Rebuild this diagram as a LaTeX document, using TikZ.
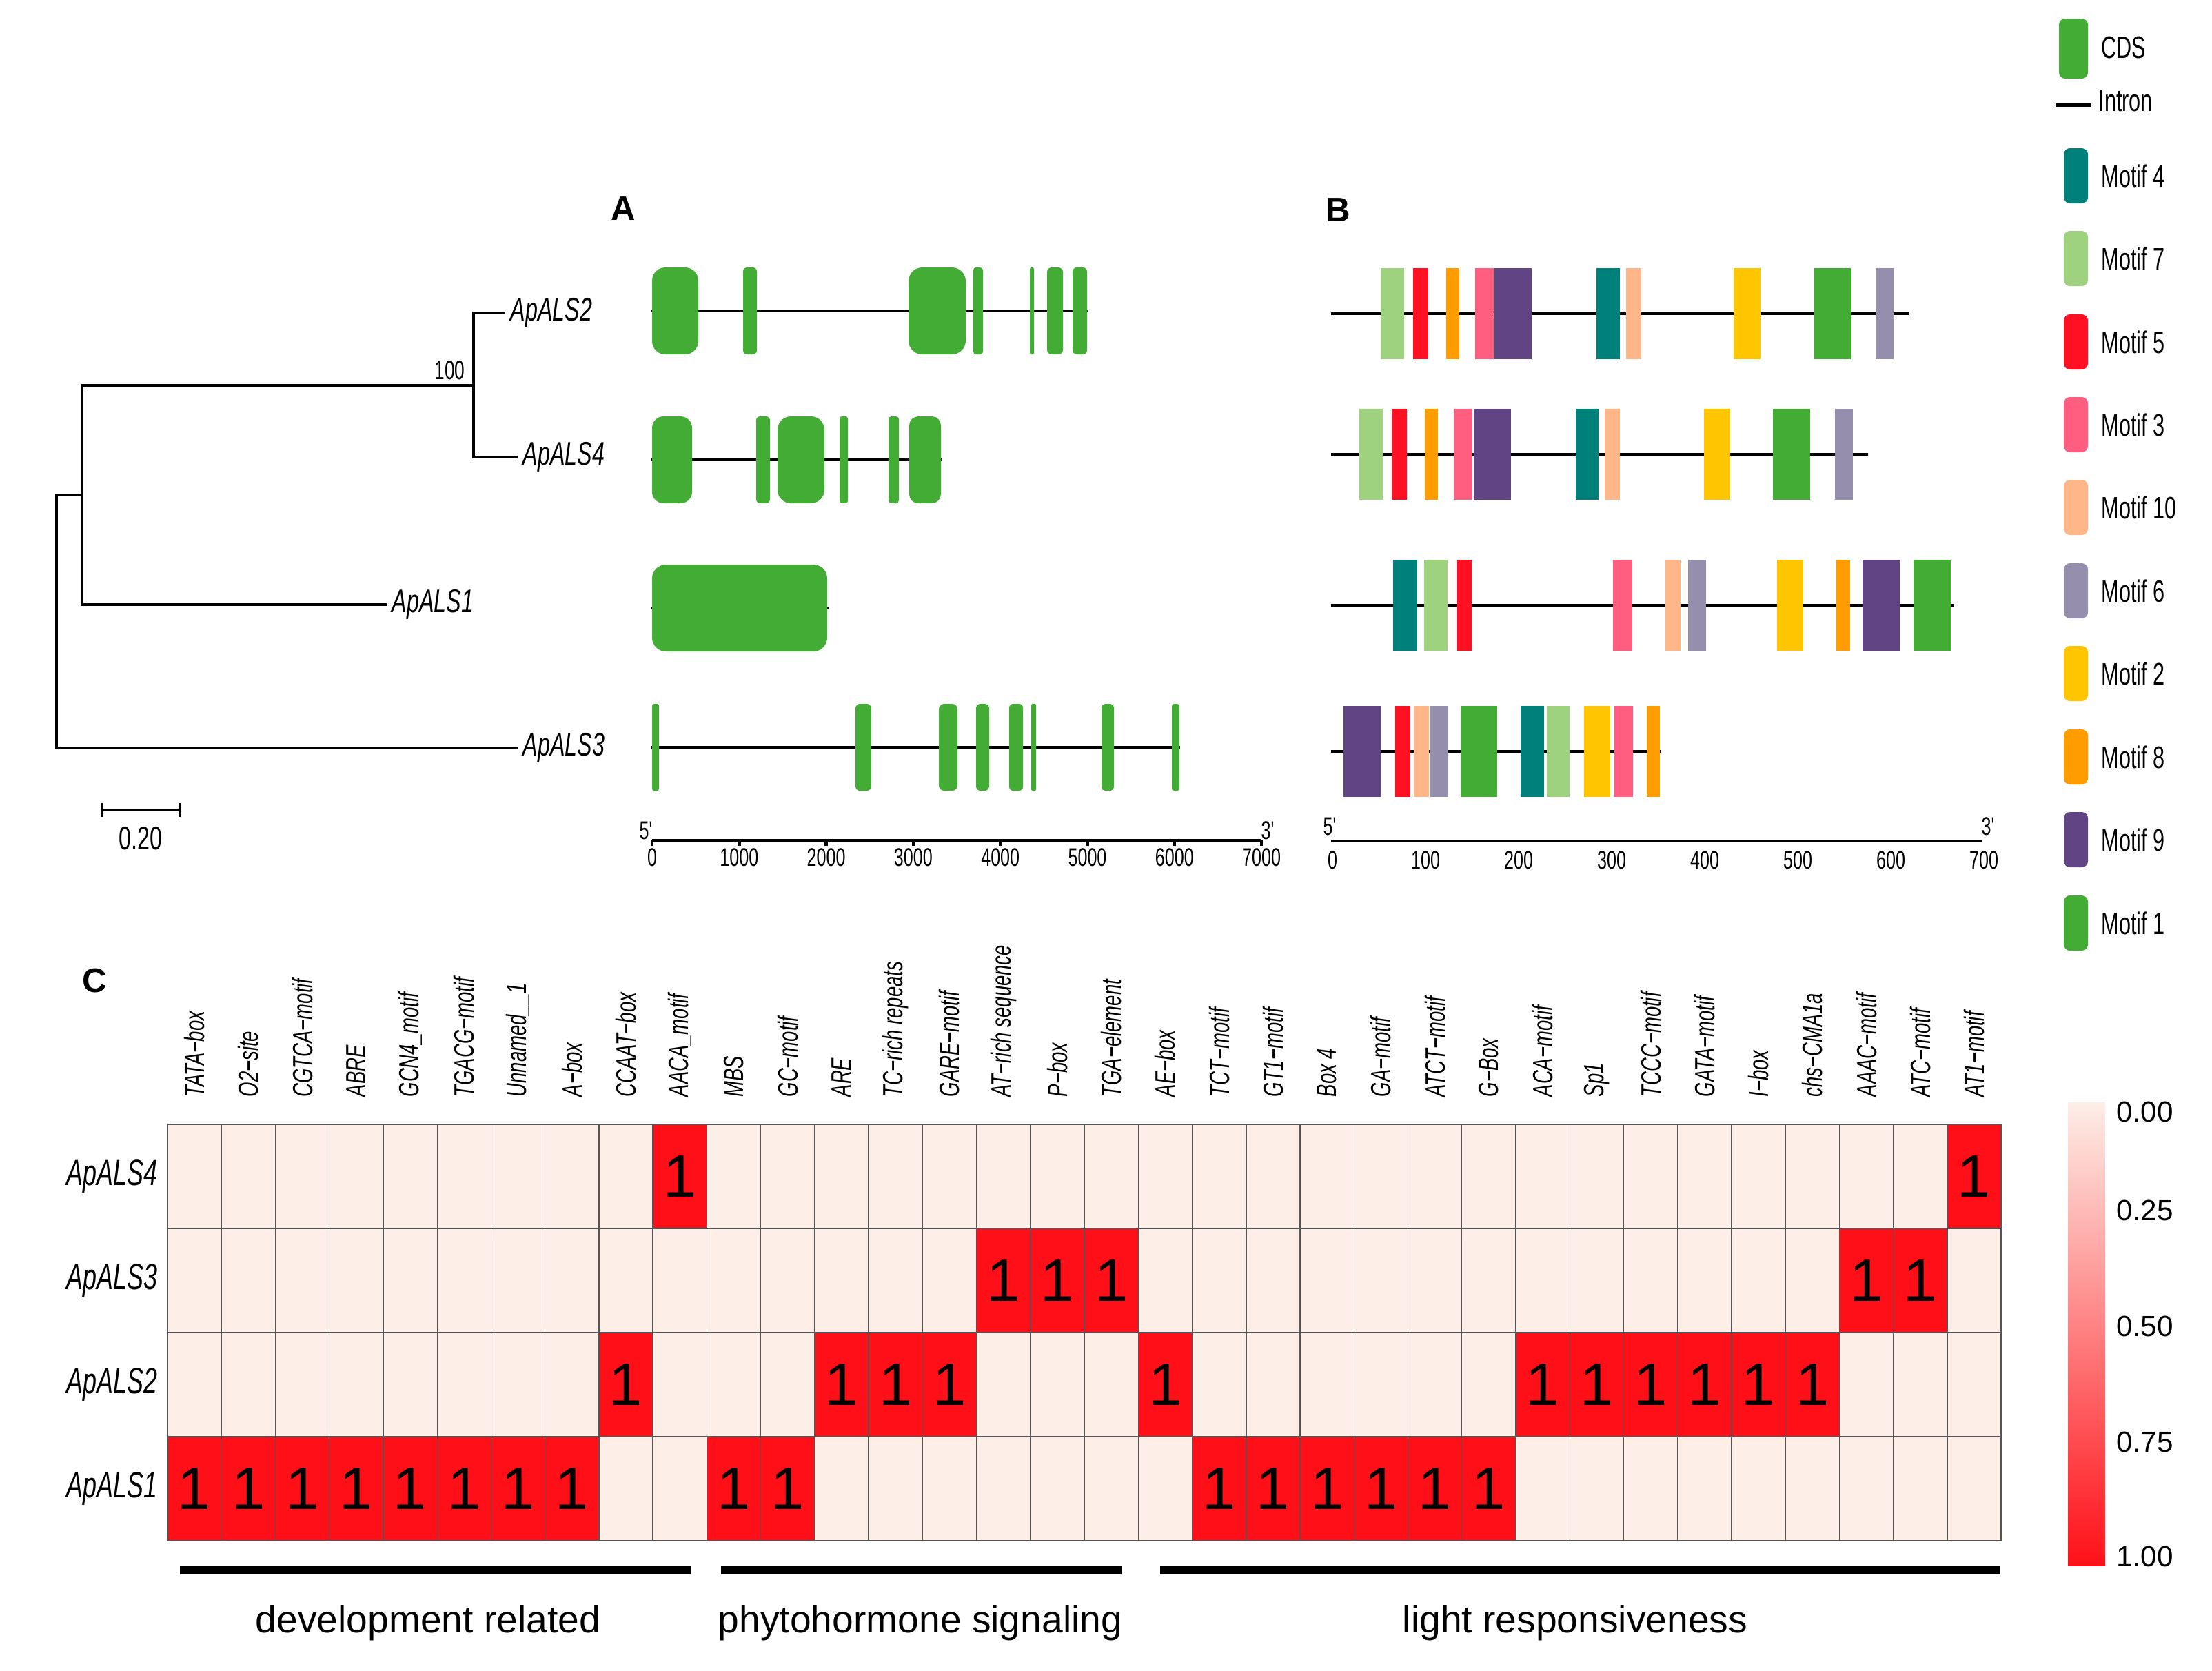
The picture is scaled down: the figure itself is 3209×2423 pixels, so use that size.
\documentclass[tikz,border=0pt]{standalone}
\usepackage{fontspec}
\setmainfont{Liberation Sans}
\newfontfamily\nfont[FakeStretch=0.68]{Liberation Sans}

\definecolor{cdsgreen}{HTML}{43AC34}
\definecolor{motif1}{HTML}{43AC34}
\definecolor{motif2}{HTML}{FFC600}
\definecolor{motif3}{HTML}{FF5E80}
\definecolor{motif4}{HTML}{00807A}
\definecolor{motif5}{HTML}{FF1022}
\definecolor{motif6}{HTML}{958FAD}
\definecolor{motif7}{HTML}{9ED27E}
\definecolor{motif8}{HTML}{FF9D00}
\definecolor{motif9}{HTML}{614484}
\definecolor{motif10}{HTML}{FFB688}
\definecolor{cellbg}{HTML}{FDEEE7}
\definecolor{cellred}{HTML}{FF1018}
\definecolor{gridgrey}{HTML}{555555}
\definecolor{barmid}{HTML}{FD9478}

\tikzset{
  treeline/.style={line width=0.9pt},
  leaf/.style={anchor=west, inner sep=2pt, font=\nfont\itshape\fontsize{13.5}{16}\selectfont},
  exon/.style={fill=cdsgreen},
  intron/.style={line width=1pt},
  axisline/.style={line width=1.3pt},
  ticklabel/.style={inner sep=0pt, font=\nfont\fontsize{10.5}{12}\selectfont},
  panel/.style={font=\bfseries\fontsize{14}{16}\selectfont},
  legendtext/.style={anchor=west, inner sep=0pt, font=\nfont\fontsize{12.8}{15}\selectfont},
  cell/.style={fill=cellbg, draw=gridgrey, line width=0.4pt},
  hit/.style={fill=cellred, draw=gridgrey, line width=0.4pt},
  one/.style={inner sep=0pt, font=\fontsize{24.7}{28}\selectfont},
  collabel/.style={rotate=90, anchor=west, inner sep=0pt, font=\nfont\itshape\fontsize{11.5}{13}\selectfont},
  rowlabel/.style={anchor=east, inner sep=0pt, font=\nfont\itshape\fontsize{15}{17}\selectfont},
  groupbar/.style={line width=3.4pt},
  grouplabel/.style={anchor=base, inner sep=0pt, font=\fontsize{15.7}{19}\selectfont},
  barlabel/.style={anchor=west, inner sep=0pt, font=\fontsize{12}{14}\selectfont}
}

\begin{document}
\begin{tikzpicture}[x=0.01cm, y=-0.01cm]
  \useasboundingbox (0,0) rectangle (3209,2423);
  %
  % tree
  \node[leaf] (lab2) at (733,454) {ApALS2};
  \node[leaf] (lab4) at (751,663) {ApALS4};
  \node[leaf] (lab1) at (561,877) {ApALS1};
  \node[leaf] (lab3) at (751,1085) {ApALS3};
  \coordinate (root) at (82,901);
  \coordinate (n1) at (119,718);
  \coordinate (n2) at (687,559);
  \draw[treeline] (lab2.west) -| (n2) |- (lab4.west);
  \draw[treeline] (n2) -| (n1) |- (lab1.west);
  \draw[treeline] (n1) -| (root) |- (lab3.west);
  \node[anchor=east, inner sep=0pt, font=\nfont\fontsize{11}{13}\selectfont] (boot) at (675,537) {100};
  % scale bar
  \coordinate (sbl) at (148,1175);
  \coordinate (sbr) at (261,1175);
  \draw[treeline] (148,1165) -- (148,1185) (sbl) -- (sbr) (261,1165) -- (261,1185);
  \node[inner sep=0pt, font=\nfont\fontsize{13.5}{16}\selectfont] (sblab) at (204,1216) {0.20};
  %
  % A: gene structure
  \node[panel] (pa) at (904,303) {A};
  \foreach \y/\len/\ex in {451/1578/{946/1013,1078/1098,1318/1401,1412/1426,1494/1500,1519/1542,1556/1577},
                           667/1366/{946/1004,1097/1117,1128/1196,1218/1230,1289/1304,1319/1365},
                           882/1202/{946/1200},
                           1084/1712/{946/956,1241/1264,1362/1389,1416/1435,1464/1484,1496/1503,1598/1616,1700/1711}} {
    \draw[intron] (944,\y) -- (\len,\y);
    \foreach \a/\b in \ex {
      \pgfmathsetmacro\rad{min(20,(\b-\a)/3.5)*0.2845}
      \fill[exon, rounded corners=\rad pt] (\a,\y-63) rectangle (\b,\y+63);
    }
  }
  \draw[axisline] (946,1219) -- (1830,1219);
  \foreach \t [count=\i from 0] in {0,1000,2000,3000,4000,5000,6000,7000} {
    \draw[axisline] ({946+126.3*\i},1219) -- ({946+126.3*\i},1227);
    \node[ticklabel] (ta\i) at ({946+126.3*\i},1244) {\t};
  }
  \node[ticklabel] (pa5) at (937,1205) {5'};
  \node[ticklabel] (pa3) at (1839,1205) {3'};
  %
  % B: motifs
  \node[panel] (pb) at (1941,305) {B};
  \foreach \y/\len/\mf in {455/2769/{2003/2037/7,2050/2072/5,2098/2117/8,2140/2167/3,2168/2222/9,2316/2350/4,2359/2381/10,2515/2554/2,2632/2686/1,2721/2747/6},
                           659/2710/{1972/2006/7,2019/2041/5,2067/2086/8,2109/2136/3,2138/2192/9,2286/2319/4,2328/2350/10,2472/2510/2,2572/2626/1,2662/2688/6},
                           878/2835/{2021/2056/4,2066/2100/7,2113/2135/5,2340/2368/3,2416/2438/10,2449/2475/6,2578/2616/2,2664/2684/8,2702/2756/9,2776/2830/1},
                           1090/2410/{1949/2003/9,2024/2046/5,2051/2073/10,2075/2101/6,2119/2172/1,2206/2240/4,2244/2277/7,2298/2336/2,2342/2369/3,2389/2408/8}} {
    \draw[intron, line width=1.2pt] (1931,\y) -- (\len,\y);
    \foreach \a/\b/\m in \mf
      \fill[motif\m] (\a,\y-66) rectangle (\b,\y+66);
  }
  \draw[axisline] (1931,1220) -- (2876,1220);
  \foreach \t [count=\i from 0] in {0,100,200,300,400,500,600,700}
    \node[ticklabel] (tb\i) at ({1933+135*\i},1248) {\t};
  \node[ticklabel] (pb5) at (1929,1199) {5'};
  \node[ticklabel] (pb3) at (2884,1199) {3'};
  %
  % legend
  \fill[cdsgreen, rounded corners=2.5pt] (2987,27) rectangle (3029,114);
  \node[legendtext] (lcds) at (3048,69) {CDS};
  \draw[line width=1.7pt] (2983,152) -- (3033,152);
  \node[legendtext] (lint) at (3044,146) {Intron};
  \foreach \m/\yc in {4/255,7/375,5/496,3/616,10/736,6/857,2/977,8/1098,9/1218,1/1339} {
    \fill[motif\m, rounded corners=2.5pt] (2994,\yc-40) rectangle (3029,\yc+40);
    \node[legendtext] (lm\m) at (3048,\yc) {Motif \m};
  }
  %
  % C: heatmap
  \node[panel] (pc) at (137,1423) {C};
  \foreach \lab [count=\c] in {TATA−box,O2−site,CGTCA−motif,ABRE,GCN4\_motif,TGACG−motif,Unnamed\_\_1,A−box,CCAAT−box,AACA\_motif,
                               MBS,GC−motif,ARE,TC−rich repeats,GARE−motif,AT−rich sequence,P−box,TGA−element,AE−box,TCT−motif,
                               GT1−motif,Box 4,GA−motif,ATCT−motif,G−Box,ACA−motif,Sp1,TCCC−motif,GATA−motif,I−box,
                               chs−CMA1a,AAAC−motif,ATC−motif,AT1−motif}
    \node[collabel] (col\c) at ({243+78.24*(\c-0.5)},1592) {\lab};
  \foreach \name [count=\r from 0] in {ApALS4,ApALS3,ApALS2,ApALS1}
    \node[rowlabel] (rl\r) at (229,{1631+151*(\r+0.5)}) {\name};
  \foreach \r in {0,...,3}
    \foreach \c in {1,...,34}
      \draw[cell] ({243+78.24*(\c-1)},{1631+151*\r}) rectangle ++(78.24,151);
  \foreach \r/\hits in {0/{10,34},1/{16,17,18,32,33},2/{9,13,14,15,19,26,27,28,29,30,31},
                        3/{1,2,3,4,5,6,7,8,11,12,20,21,22,23,24,25}}
    \foreach \c in \hits {
      \draw[hit] ({243+78.24*(\c-1)},{1631+151*\r}) rectangle ++(78.24,151);
      \node[one] (one\r-\c) at ({243+78.24*(\c-0.5)},{1631+151*(\r+0.5)}) {1};
    }
  % groups
  \draw[groupbar] (261,2278) -- (1002,2278);
  \draw[groupbar] (1046,2278) -- (1627,2278);
  \draw[groupbar] (1683,2278) -- (2902,2278);
  \node[grouplabel] (gdev) at (621,2368) {development related};
  \node[grouplabel] (gphy) at (1335,2368) {phytohormone signaling};
  \node[grouplabel] (glig) at (2285,2368) {light responsiveness};
  % colour bar
  \shade[top color=cellbg, middle color=barmid, bottom color=cellred] (3000,1599) rectangle (3054,2271);
  \foreach \v/\yy [count=\k] in {0.00/1613,0.25/1756,0.50/1924,0.75/2092,1.00/2258}
    \node[barlabel] (bl\k) at (3070,\yy) {\v};
\end{tikzpicture}
\end{document}
